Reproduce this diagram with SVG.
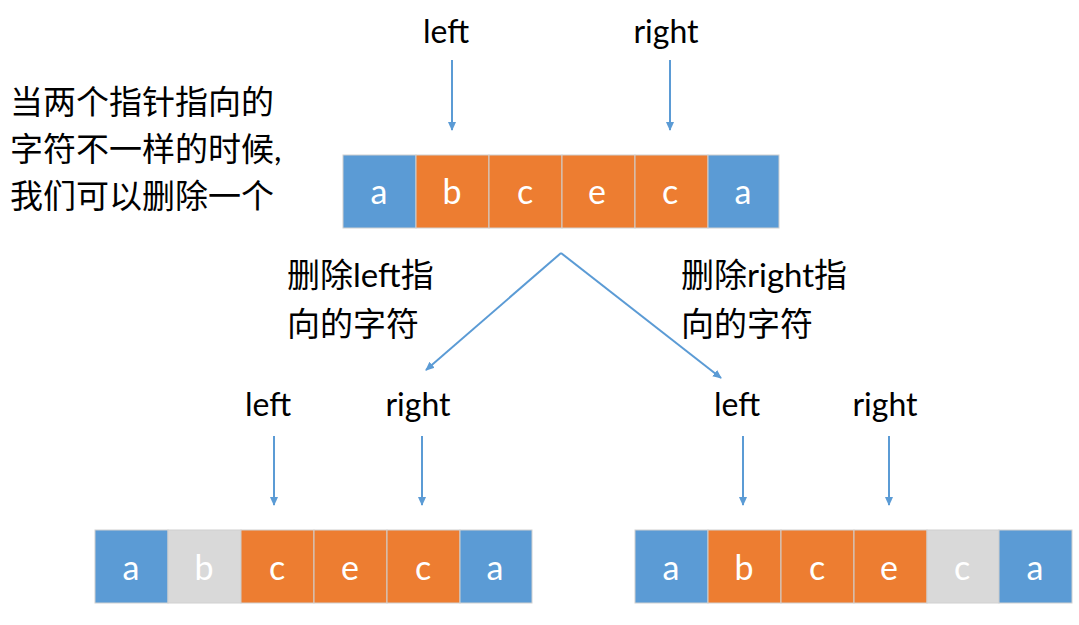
<svg xmlns="http://www.w3.org/2000/svg" width="1079" height="625" viewBox="0 0 1079 625">
<style>
text{font-family:Lato,"Noto Sans CJK SC",sans-serif;fill:#000}
.lbl{font-size:32px;text-anchor:middle}
.cn{font-size:33px}
.cell text{font-size:34px;fill:#fff;text-anchor:middle}
.b{fill:#5B9BD5}.o{fill:#ED7D31}.g{fill:#D9D9D9}
.cell rect{stroke:#d0d0d0;stroke-width:1}
.ar{stroke:#5B9BD5;stroke-width:2;fill:none;marker-end:url(#m)}
</style>
<defs><marker id="m" markerWidth="10" markerHeight="10" refX="8" refY="5" orient="auto" markerUnits="userSpaceOnUse"><path d="M0,1 L9,5 L0,9 z" fill="#5B9BD5"/></marker></defs>
<rect width="1079" height="625" fill="#fff"/>
<g id="desc"><text class="cn" x="10" y="114">当两个指针指向的</text><text class="cn" x="10" y="161">字符不一样的时候,</text><text class="cn" x="10" y="208">我们可以删除一个</text></g>
<g id="top" class="cell">
<rect class="b" x="343" y="155" width="73" height="73"/><text x="379" y="204">a</text>
<rect class="o" x="416" y="155" width="73" height="73"/><text x="452" y="204">b</text>
<rect class="o" x="489" y="155" width="73" height="73"/><text x="525" y="204">c</text>
<rect class="o" x="562" y="155" width="73" height="73"/><text x="597" y="204">e</text>
<rect class="o" x="635" y="155" width="73" height="73"/><text x="670" y="204">c</text>
<rect class="b" x="708" y="155" width="71" height="73"/><text x="743" y="204">a</text>
</g>
<g id="bl" class="cell">
<rect class="b" x="95" y="530" width="73" height="73"/><text x="131" y="580">a</text>
<rect class="g" x="168" y="530" width="73" height="73"/><text x="204" y="580">b</text>
<rect class="o" x="241" y="530" width="73" height="73"/><text x="277" y="580">c</text>
<rect class="o" x="314" y="530" width="73" height="73"/><text x="350" y="580">e</text>
<rect class="o" x="387" y="530" width="73" height="73"/><text x="423" y="580">c</text>
<rect class="b" x="460" y="530" width="72" height="73"/><text x="495" y="580">a</text>
</g>
<g id="br" class="cell">
<rect class="b" x="635" y="530" width="73" height="73"/><text x="671" y="580">a</text>
<rect class="o" x="708" y="530" width="73" height="73"/><text x="744" y="580">b</text>
<rect class="o" x="781" y="530" width="73" height="73"/><text x="817" y="580">c</text>
<rect class="o" x="854" y="530" width="73" height="73"/><text x="889" y="580">e</text>
<rect class="g" x="927" y="530" width="72" height="73"/><text x="962" y="580">c</text>
<rect class="b" x="999" y="530" width="73" height="73"/><text x="1035" y="580">a</text>
</g>
<g id="labels">
<text class="lbl" x="446" y="43">left</text><text class="lbl" x="666" y="43">right</text>
<text class="lbl" x="268" y="416">left</text><text class="lbl" x="418" y="416">right</text>
<text class="lbl" x="737" y="416">left</text><text class="lbl" x="885" y="416">right</text>
<text class="cn" x="287" y="287">删除left指</text><text class="cn" x="287" y="336">向的字符</text>
<text class="cn" x="681" y="287">删除right指</text><text class="cn" x="681" y="336">向的字符</text>
</g>
<g id="connectors">
<line class="ar" x1="452" y1="60" x2="452" y2="130"/>
<line class="ar" x1="670" y1="60" x2="670" y2="130"/>
<line class="ar" x1="561" y1="253" x2="426" y2="370"/>
<line class="ar" x1="561" y1="253" x2="721" y2="378"/>
<line class="ar" x1="274" y1="436" x2="274" y2="505"/>
<line class="ar" x1="422" y1="436" x2="422" y2="505"/>
<line class="ar" x1="743" y1="436" x2="743" y2="505"/>
<line class="ar" x1="889" y1="436" x2="889" y2="505"/>
</g>
</svg>
